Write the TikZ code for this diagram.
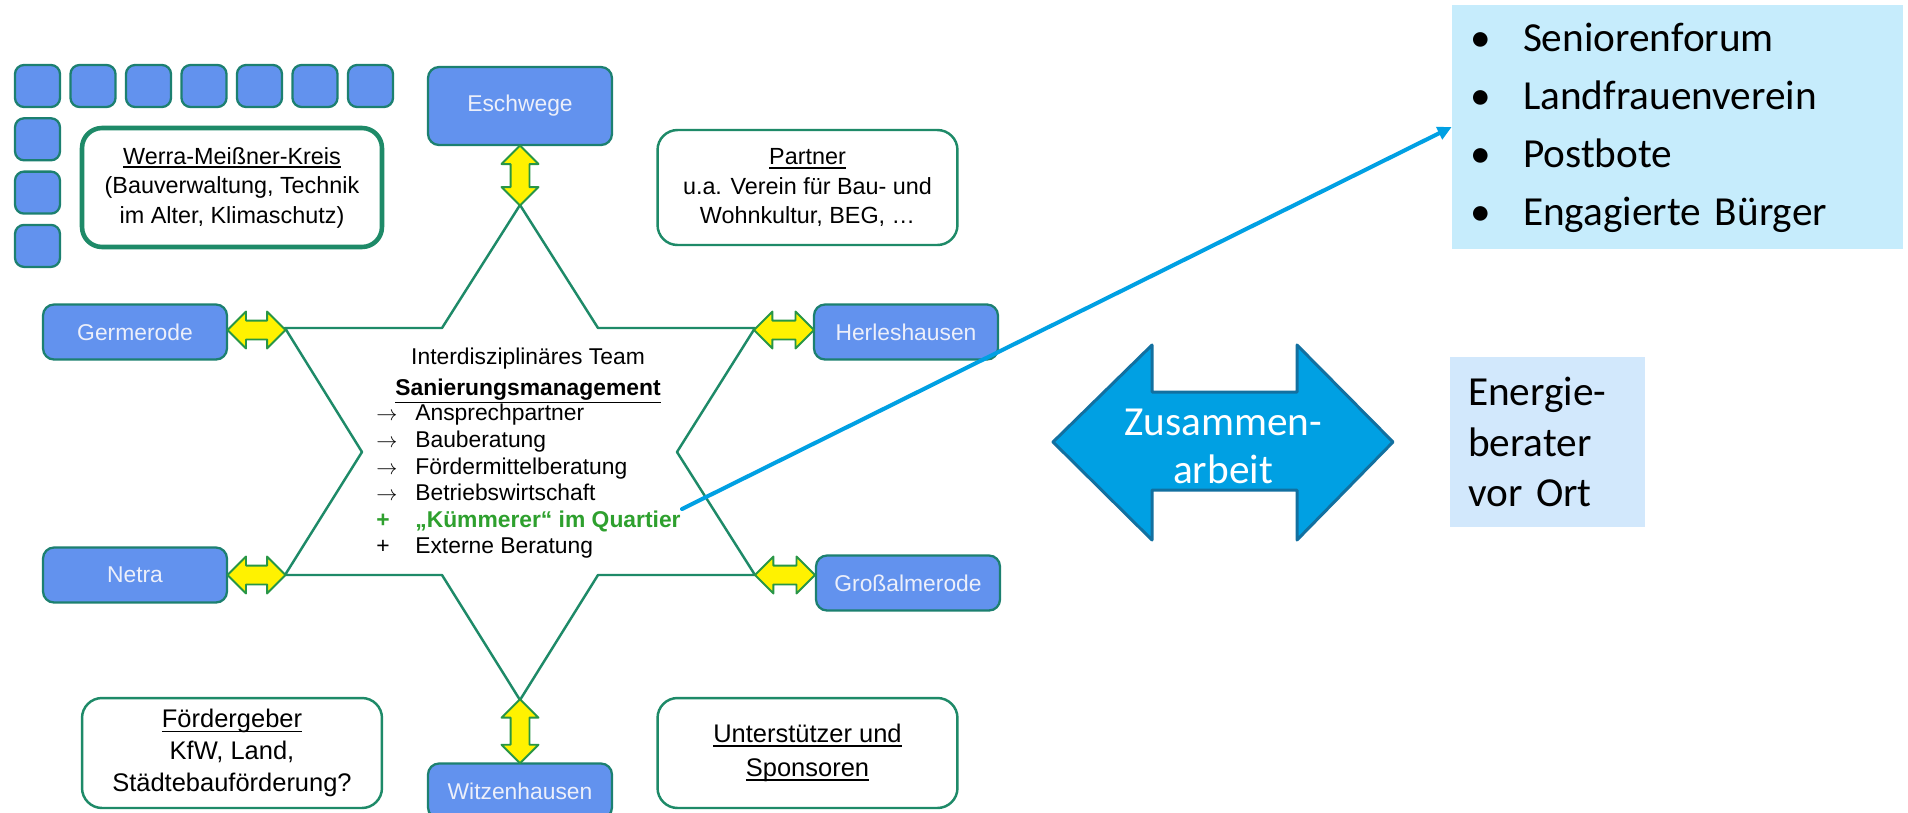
\documentclass[tikz,border=0pt]{standalone}
\usepackage{fontspec}
\setmainfont{Liberation Sans}
\newfontfamily\calibri{Carlito}
\usepackage{tikz}
\usetikzlibrary{arrows.meta,calc,positioning,shapes.arrows}
\definecolor{townblue}{RGB}{98,146,238}
\definecolor{townedge}{RGB}{28,128,112}
\definecolor{townfont}{RGB}{236,239,250}
\definecolor{stargreen}{RGB}{30,138,104}
\definecolor{arrowgreen}{RGB}{40,150,70}
\definecolor{kgreen}{RGB}{46,160,46}
\definecolor{linkblue}{RGB}{0,160,227}
\definecolor{bigedge}{RGB}{18,112,160}
\definecolor{forumfill}{RGB}{198,236,252}
\definecolor{energyfill}{RGB}{210,232,252}
\newcommand{\undl}[1]{\setbox0\hbox{#1}\rlap{\rule[-0.17em]{\wd0}{0.065em}}\box0}
\tikzset{
  tile/.style={rounded corners=0.18cm, draw=townedge, fill=townblue, line width=1.3pt, minimum width=0.9cm, minimum height=0.84cm, inner sep=0pt},
  town/.style={rounded corners=0.22cm, draw=townedge, fill=townblue, line width=1.3pt, minimum width=3.68cm, minimum height=1.1cm, text=townfont, font=\fontsize{13}{15}\selectfont},
  infobox/.style={rounded corners=0.4cm, draw=stargreen, line width=1.4pt, minimum width=6cm, minimum height=2.3cm, align=center, inner sep=0pt},
  yarrow/.style={double arrow, double arrow head extend=0.18cm, double arrow tip angle=90, draw=arrowgreen, fill=yellow, line width=1.1pt, inner xsep=0pt, inner ysep=0.17cm},
  starline/.style={draw=stargreen, line width=1.4pt},
  forumbox/.style={fill=forumfill, minimum width=9.02cm, minimum height=4.88cm, text width=8.3cm, inner xsep=0.36cm, align=left, font=\calibri\fontsize{23.5}{33}\selectfont},
  energybox/.style={fill=energyfill, minimum width=3.9cm, minimum height=3.4cm, text width=3.18cm, inner xsep=0.36cm, align=left, font=\calibri\fontsize{23.5}{28.5}\selectfont},
  every picture/.style={line cap=round, line join=round}
}

\begin{document}
\begin{tikzpicture}[x=0.02cm, y=-0.02cm]
  \path[fill=white, use as bounding box] (0,0) rectangle (1908,812);

  % Kreis tiles
  \foreach \i in {0,...,6}
    \node[tile] (top\i) at ({37.5+55.5*\i},86) {};
  \foreach \j in {1,2,3}
    \node[tile] (side\j) at (37.5,{86+53.3*\j}) {};

  % Star
  \coordinate (vtop) at (520,205);
  \coordinate (vgl) at (285,328);
  \coordinate (vgr) at (755,328);
  \coordinate (vbl) at (285,575);
  \coordinate (vbr) at (755,575);
  \coordinate (vbot) at (520,700);
  \draw[starline] (vtop) -- (442,328) -- (vgl) -- (362,452) -- (vbl) -- (442,575)
    -- (vbot) -- (598,575) -- (vbr) -- (677,452) -- (vgr) -- (598,328) -- cycle;

  % Towns
  \node[town, minimum height=1.56cm] (esch) at (520,106) {Eschwege};
  \node[town] (germ) at (135,332) {Germerode};
  \node[town] (herl) at (906,332) {Herleshausen};
  \node[town] (netra) at (135,575) {Netra};
  \node[town] (gross) at (908,583) {Großalmerode};
  \node[town] (witz) at (520,791) {Witzenhausen};

  \node[yarrow, rotate=90, minimum height=1.2cm] (yesch) at ($(esch.south)!.5!(vtop)$) {};
  \node[yarrow, rotate=90, minimum height=1.28cm] (ywitz) at ($(vbot)!.5!(witz.north)$) {};
  \node[yarrow, minimum height=1.16cm] (ygerm) at ($(germ.east)!.5!(vgl)$) {};
  \node[yarrow, minimum height=1.2cm] (yherl) at ($(vgr)!.5!(herl.west)$) {};
  \node[yarrow, minimum height=1.16cm] (ynetra) at ($(netra.east)!.5!(vbl)$) {};
  \node[yarrow, minimum height=1.2cm] (ygross) at ($(vbr)!.5!(gross.west |- vbr)$) {};

  % Boxes
  \node[infobox, line width=2.6pt, minimum height=2.38cm, font=\fontsize{13.3}{16.8}\selectfont] (wmk) at (232,187.5)
    {\undl{Werra-Meißner-Kreis}\\(Bauverwaltung, Technik\\im Alter, Klimaschutz)};
  \node[infobox, font=\fontsize{13.3}{16.8}\selectfont] (partner) at (807.5,187.5)
    {\undl{Partner}\\u.a. Verein für Bau- und\\Wohnkultur, BEG, …};
  \node[infobox, minimum height=2.2cm, font=\fontsize{14.5}{18}\selectfont] (foerder) at (232,753)
    {\undl{Fördergeber}\\KfW, Land,\\Städtebauförderung?};
  \node[infobox, minimum height=2.2cm, font=\fontsize{14.5}{19.3}\selectfont] (sponsor) at (807.5,753)
    {\undl{Unterstützer und}\\\undl{Sponsoren}};

  % Team
  \node[align=center, font=\fontsize{13}{17.5}\selectfont] (team) at (528,376)
    {Interdisziplinäres Team\\\underline{\textbf{Sanierungsmanagement}}};
  \node[anchor=west, inner sep=0pt, font=\fontsize{13}{15.1}\selectfont] (tasks) at (376,482) {%
    \begin{tabular}{@{}p{0.78cm}@{}l@{}}
      $\rightarrow$ & Ansprechpartner\\
      $\rightarrow$ & Bauberatung\\
      $\rightarrow$ & Fördermittelberatung\\
      $\rightarrow$ & Betriebswirtschaft\\
      \textcolor{kgreen}{\textbf{+}} & \textcolor{kgreen}{\textbf{„Kümmerer“ im Quartier}}\\
      + & Externe Beratung
    \end{tabular}};

  % Right side
  \node[forumbox] (forum) at (1677.5,127) {%
    \begin{tabular}{@{}p{1.06cm}@{}l@{}}
      • & Seniorenforum\\
      • & Landfrauenverein\\
      • & Postbote\\
      • & Engagierte Bürger
    \end{tabular}};
  \node[energybox] (energy) at (1547.5,442) {Energie-\\berater\\vor Ort};

  \draw[fill=linkblue, draw=bigedge, line width=1.7pt] (1053,442) -- (1152,345) -- (1152,392)
    -- (1297,392) -- (1297,345) -- (1393,442) -- (1297,540) -- (1297,490) -- (1152,490)
    -- (1152,540) -- cycle;
  \node[text=white, align=center, font=\calibri\fontsize{23.5}{27.3}\selectfont] (zus) at (1223,446)
    {Zusammen-\\arbeit};

  \coordinate (kend) at (682,509);
  \draw[linkblue, line width=2.3pt, -{Triangle[length=8pt,width=7.5pt]}] (kend) -- (forum.west);
\end{tikzpicture}
\end{document}
